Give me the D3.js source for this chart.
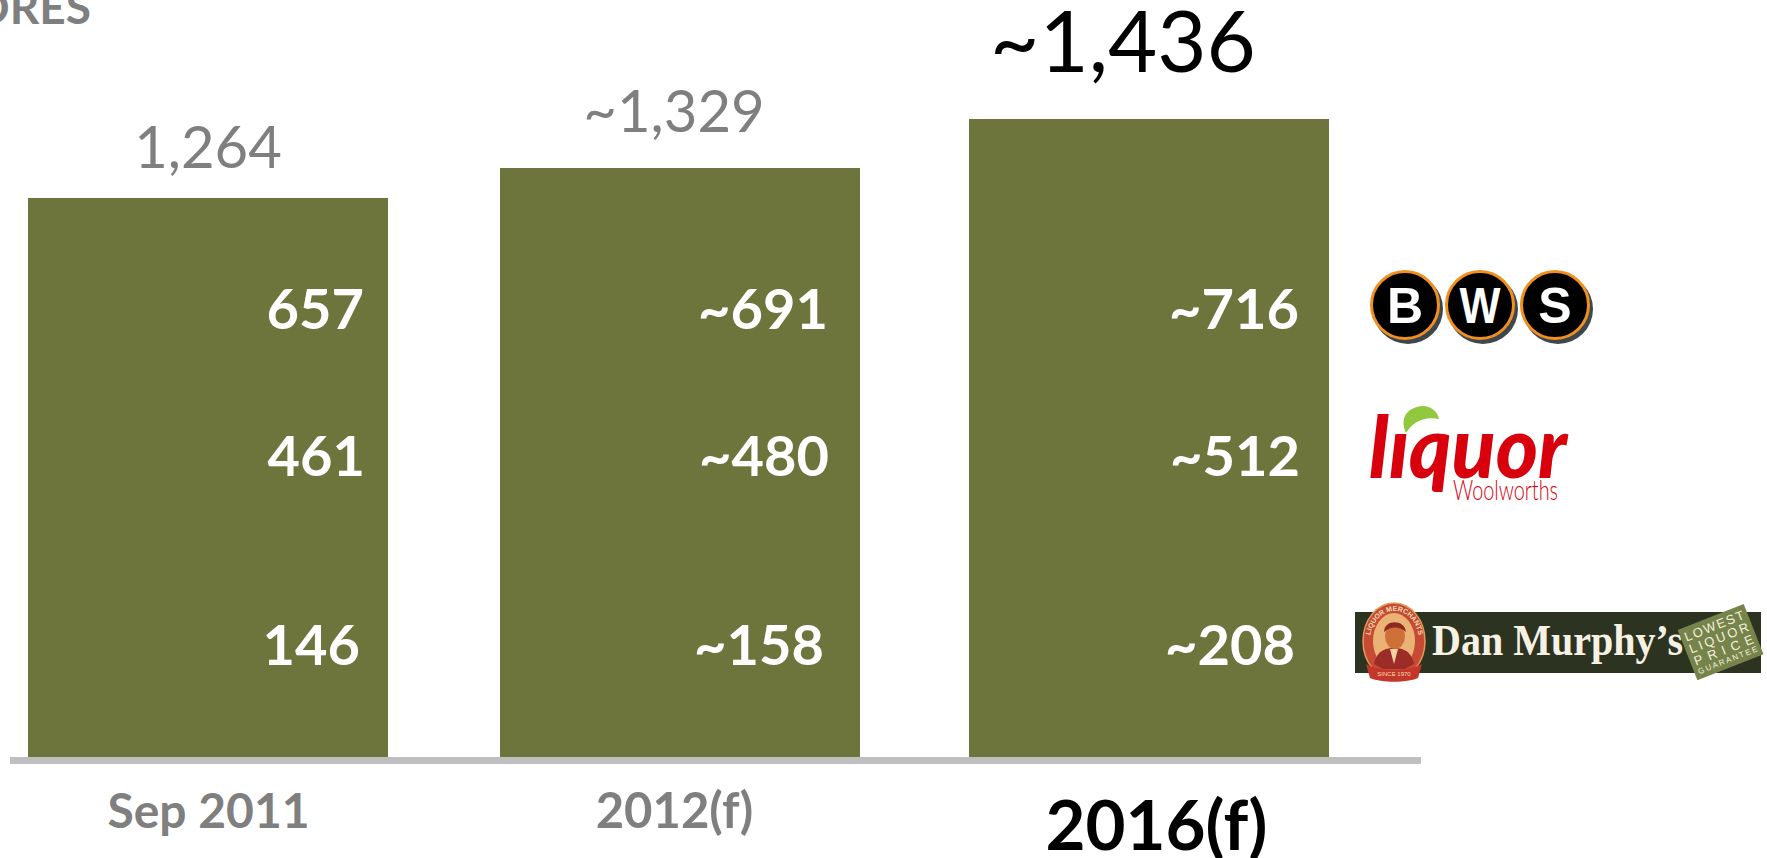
<!DOCTYPE html>
<html>
<head>
<meta charset="utf-8">
<script src="https://cdn.jsdelivr.net/npm/d3@7/dist/d3.min.js"></script>
<style>
  html, body { margin: 0; padding: 0; background: #fff; overflow: hidden; }
  text { font-family: Lato, "Open Sans", sans-serif; }
</style>
</head>
<body>
<svg id="chart" width="1767" height="858"></svg>
<script>
// Store counts per banner, by period
const periods = ["Sep 2011", "2012(f)", "2016(f)"];
const bws = [657, 691, 716];
const liquorStores = [461, 480, 512];
const danMurphys = [146, 158, 208];
const estimated = [false, true, true];
const unitLabel = "STORES";

const OLIVE = "#6e753c";
const GREY = "#7f7f7f";
const BASELINE = 757;
const BAR_WIDTH = 360;
const svg = d3.select("#chart");

const rows = periods.map((p, i) => ({
  period: p, bws: bws[i], liquor: liquorStores[i], dan: danMurphys[i], estimated: estimated[i]
}));
const banners = ["dan", "liquor", "bws"];

const x = d3.scaleOrdinal().domain(periods).range([28, 500, 969]);
// The value axis is truncated: zero sits below the baseline, and bars are cut off there
const y = d3.scaleLinear().domain([0, 1436]).range([778, 119]);
const rowBaseline = d3.scaleOrdinal().domain(["bws", "liquor", "dan"]).range([329, 476, 665]);
const rowInset = d3.scaleOrdinal().domain(["bws", "liquor", "dan"]).range([24, 23, 28]);
const columnInset = d3.scaleOrdinal().domain(periods).range([0, 8, 6]);
const fmt = d3.format(",");
const tilde = d => (d.estimated ? "~" : "");

// Stacked bars share one colour, so the banners read as labelled rows
const stacked = d3.stack().keys(banners)(rows);
svg.append("g").selectAll("g").data(stacked).join("g")
  .selectAll("rect").data(s => s).join("rect")
  .attr("x", d => x(d.data.period))
  .attr("width", BAR_WIDTH)
  .attr("y", d => Math.min(y(d[1]), BASELINE))
  .attr("height", d => Math.min(y(d[0]), BASELINE) - Math.min(y(d[1]), BASELINE))
  .attr("fill", OLIVE)
  .attr("shape-rendering", "crispEdges");

// Banner counts inside the bars
banners.forEach(key => {
  svg.append("g").selectAll("text").data(rows).join("text")
    .attr("x", d => x(d.period) + BAR_WIDTH - rowInset(key) - columnInset(d.period))
    .attr("y", rowBaseline(key))
    .attr("text-anchor", "end")
    .attr("font-size", 56)
    .attr("font-weight", 700)
    .attr("fill", "#fff")
    .text(d => tilde(d) + fmt(d[key]));
});

// Totals above the bars; the last period is emphasised
const totalStyle = [
  { size: 58, fill: GREY, dx: 0, base: 168 },
  { size: 58, fill: GREY, dx: -6, base: 132 },
  { size: 85, fill: "#000", dx: -26, base: 72 }
];
svg.append("g").selectAll("text").data(rows).join("text")
  .attr("x", (d, i) => x(d.period) + BAR_WIDTH / 2 + totalStyle[i].dx)
  .attr("y", (d, i) => totalStyle[i].base)
  .attr("text-anchor", "middle")
  .attr("font-size", (d, i) => totalStyle[i].size)
  .attr("fill", (d, i) => totalStyle[i].fill)
  .text(d => tilde(d) + fmt(d.bws + d.liquor + d.dan));

// Baseline and period labels
svg.append("rect").attr("x", 10).attr("y", BASELINE).attr("width", 1411).attr("height", 7).attr("fill", "#bfbfbf");
const tickStyle = [
  { size: 48, fill: GREY, dx: 0, base: 828 },
  { size: 49, fill: GREY, dx: -6, base: 828 },
  { size: 69, fill: "#000", dx: 7, base: 850 }
];
const axis = svg.append("g").call(d3.axisBottom(x).tickSize(0));
axis.select(".domain").remove();
axis.selectAll("text")
  .attr("font-family", null)
  .style("font-family", "Lato, sans-serif")
  .attr("dy", null)
  .attr("text-anchor", "middle")
  .attr("x", (d, i) => BAR_WIDTH / 2 + tickStyle[i].dx)
  .attr("y", (d, i) => tickStyle[i].base)
  .attr("font-size", (d, i) => tickStyle[i].size)
  .attr("font-weight", 700)
  .attr("fill", (d, i) => tickStyle[i].fill);

// Unit heading, running off the top-left corner
svg.append("text").attr("x", 91).attr("y", 24).attr("text-anchor", "end")
  .attr("font-size", 46).attr("font-weight", 700).attr("fill", GREY).text(unitLabel);

// BWS roundels
const bwsLogo = svg.append("g");
["B", "W", "S"].forEach((c, i) => {
  const cx = 1405 + i * 75, cy = 305;
  bwsLogo.append("circle").attr("cx", cx + 3).attr("cy", cy + 4).attr("r", 35).attr("fill", "#3d474d");
  bwsLogo.append("circle").attr("cx", cx).attr("cy", cy).attr("r", 33.5)
    .attr("fill", "#000").attr("stroke", "#f18f1f").attr("stroke-width", 3);
  const letter = bwsLogo.append("text").attr("x", cx).attr("y", cy + 18).attr("text-anchor", "middle")
    .style("font-family", "'Liberation Sans', sans-serif")
    .attr("font-size", 50).attr("font-weight", 700).attr("fill", "#fff").text(c);
  if (c === "W") letter.attr("textLength", 41).attr("lengthAdjust", "spacingAndGlyphs");
});

// Liquor wordmark: a leaf stands in for the dot of the i
const liquorLogo = svg.append("g");
liquorLogo.append("text").attr("x", 1369).attr("y", 478)
  .attr("textLength", 198).attr("lengthAdjust", "spacingAndGlyphs")
  .attr("font-size", 86).attr("font-weight", 900).attr("font-style", "italic")
  .attr("fill", "#d9000d").text("l\u0131quor");
liquorLogo.append("path")
  .attr("d", "M1406,433 C1399,417 1408,407 1423,406 C1431,406 1438,412 1439,419 C1425,416 1413,421 1406,433 Z")
  .attr("fill", "#92c83e");
liquorLogo.append("text").attr("x", 1453).attr("y", 500)
  .attr("textLength", 105).attr("lengthAdjust", "spacingAndGlyphs")
  .attr("font-size", 28).attr("font-weight", 300).attr("fill", "#d9000d").text("Woolworths");

// Dan Murphy's banner
const dan = svg.append("g");
dan.append("rect").attr("x", 1355).attr("y", 612).attr("width", 406).attr("height", 61).attr("fill", "#2c3320");
dan.append("ellipse").attr("cx", 1394).attr("cy", 641).attr("rx", 31).attr("ry", 38)
  .attr("fill", "#c64a34").attr("stroke", "#e39a55").attr("stroke-width", 1.5);
dan.append("ellipse").attr("cx", 1394).attr("cy", 641).attr("rx", 21).attr("ry", 28).attr("fill", "#eab274");
// Portrait inside the medallion
dan.append("path").attr("d", "M1374,664 C1377,649 1388,648 1394,648 C1400,648 1411,649 1414,664 L1405,669 L1383,669 Z").attr("fill", "#9c2c28");
dan.append("path").attr("d", "M1390,649 L1398,649 L1394,664 Z").attr("fill", "#f0d3a0");
dan.append("ellipse").attr("cx", 1395).attr("cy", 636).attr("rx", 10).attr("ry", 13).attr("fill", "#cf7038");
dan.append("path").attr("d", "M1384,632 C1384,619 1405,619 1406,632 C1400,626 1390,626 1384,632 Z").attr("fill", "#8a2a20");
dan.append("path").attr("id", "medallionArc").attr("fill", "none")
  .attr("d", "M1370,641 A24.5,30 0 0 1 1419,641");
dan.append("text").style("font-family", "'Liberation Sans', sans-serif")
  .attr("font-size", 7).attr("font-weight", 700).attr("fill", "#f5dfb0")
  .append("textPath").attr("href", "#medallionArc").attr("startOffset", "50%").attr("text-anchor", "middle")
  .text("LIQUOR MERCHANTS");
dan.append("path").attr("d", "M1366,664 C1380,672 1408,672 1422,664 L1418,678 C1406,683 1382,683 1370,678 Z").attr("fill", "#c4352a");
dan.append("text").attr("x", 1394).attr("y", 676).attr("text-anchor", "middle")
  .style("font-family", "'Liberation Sans', sans-serif")
  .attr("font-size", 6).attr("fill", "#f5dfb0").text("SINCE 1970");
dan.append("text").attr("x", 1432).attr("y", 655)
  .attr("textLength", 251).attr("lengthAdjust", "spacingAndGlyphs")
  .style("font-family", "'Liberation Serif', serif")
  .attr("font-size", 44).attr("font-weight", 700).attr("fill", "#f7f1e3").text("Dan Murphy’s");
const stamp = dan.append("g").attr("transform", "translate(1721,642) rotate(-21.5)");
stamp.append("rect").attr("x", -36).attr("y", -27).attr("width", 71).attr("height", 54).attr("fill", "#76834b");
[["LOWEST", -13, 13], ["LIQUOR", 0, 13], ["PRICE", 13, 13], ["GUARANTEE", 22, 8]].forEach(([t, dy, s]) => {
  stamp.append("text").attr("x", -32).attr("y", dy).attr("textLength", 63)
    .style("font-family", "'Liberation Sans', sans-serif")
    .attr("font-size", s).attr("fill", "#f3efd9").text(t);
});
</script>
</body>
</html>
